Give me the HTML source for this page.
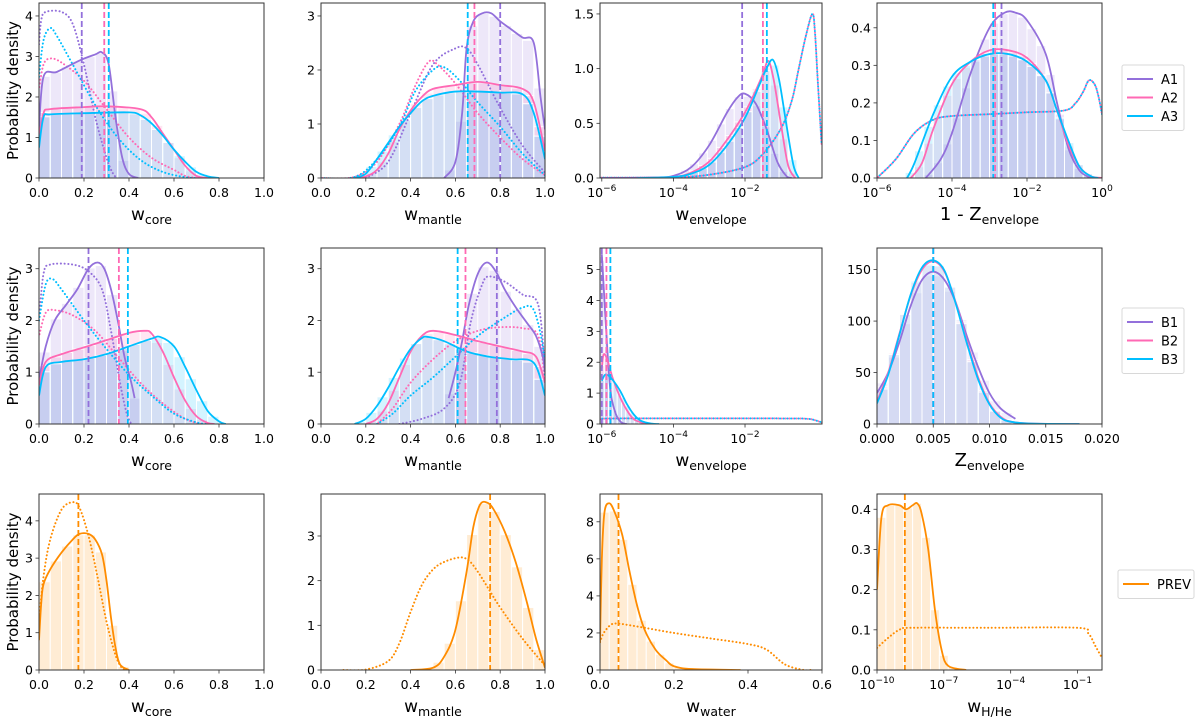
<!DOCTYPE html>
<html><head><meta charset="utf-8">
<style>
html,body{margin:0;padding:0;background:#fff;}
svg text{font-family:"DejaVu Sans","Liberation Sans",sans-serif;fill:#000;}
</style></head>
<body>
<svg id="fig" width="1200" height="717" viewBox="0 0 1200 717" xmlns="http://www.w3.org/2000/svg"></svg>
<script>
// ---------- data (x, density) ----------
// Row 1 (A models)
const p11_A1 = [[0,1.2],[0.02,2.5],[0.08,2.62],[0.18,2.9],[0.25,3.05],[0.28,3.1],[0.31,2.8],[0.34,1.5],[0.37,0.5],[0.40,0.1],[0.44,0]];
const p11_A2 = [[0,1.0],[0.02,1.6],[0.05,1.7],[0.2,1.75],[0.3,1.77],[0.45,1.7],[0.5,1.5],[0.55,1.1],[0.6,0.7],[0.65,0.3],[0.7,0.05],[0.75,0]];
const p11_A3 = [[0,0.75],[0.02,1.5],[0.05,1.57],[0.2,1.6],[0.4,1.62],[0.45,1.55],[0.5,1.35],[0.55,1.05],[0.6,0.7],[0.65,0.4],[0.7,0.15],[0.75,0.04],[0.8,0]];
const p11_A1d = [[0,3.3],[0.01,3.9],[0.03,4.1],[0.1,4.1],[0.15,3.8],[0.2,2.8],[0.25,1.5],[0.3,0.5],[0.33,0.1],[0.35,0]];
const p11_A2d = [[0,2.2],[0.02,2.8],[0.05,2.95],[0.1,2.85],[0.2,2.4],[0.3,1.7],[0.4,1.0],[0.5,0.5],[0.6,0.2],[0.65,0.05],[0.7,0]];
const p11_A3d = [[0,2.5],[0.02,3.4],[0.05,3.7],[0.08,3.5],[0.15,2.8],[0.25,1.8],[0.35,1.0],[0.45,0.45],[0.55,0.15],[0.65,0.02],[0.7,0]];
const p11_med = [0.19,0.29,0.31];

const p12_A1 = [[0.55,0],[0.6,0.3],[0.63,1.2],[0.65,2.4],[0.68,2.9],[0.72,3.05],[0.76,3.05],[0.8,2.9],[0.85,2.75],[0.9,2.6],[0.95,2.5],[0.98,1.5],[1.0,0.9]];
const p12_A2 = [[0.15,0],[0.2,0.03],[0.25,0.15],[0.3,0.45],[0.35,0.9],[0.4,1.25],[0.45,1.5],[0.5,1.65],[0.6,1.72],[0.7,1.78],[0.8,1.72],[0.9,1.65],[0.95,1.4],[1.0,0.5]];
const p12_A3 = [[0.15,0],[0.2,0.08],[0.25,0.35],[0.3,0.65],[0.35,0.95],[0.4,1.2],[0.45,1.42],[0.5,1.52],[0.6,1.6],[0.7,1.6],[0.8,1.58],[0.9,1.55],[0.95,1.2],[1.0,0.35]];
const p12_A1d = [[0.2,0],[0.3,0.3],[0.4,1.2],[0.5,2.1],[0.6,2.4],[0.65,2.4],[0.7,2.1],[0.8,1.3],[0.9,0.6],[1.0,0.1]];
const p12_A2d = [[0,0],[0.15,0.02],[0.25,0.3],[0.35,1.0],[0.42,1.7],[0.48,2.15],[0.52,2.1],[0.6,1.75],[0.7,1.2],[0.8,0.75],[0.9,0.35],[1.0,0.05]];
const p12_A3d = [[0,0],[0.15,0.02],[0.25,0.35],[0.35,0.95],[0.42,1.6],[0.5,2.0],[0.55,2.05],[0.62,1.8],[0.7,1.4],[0.8,0.95],[0.9,0.45],[1.0,0.05]];
const p12_med = [0.80,0.685,0.655];

const p13_A1 = [[-6,0],[-4.5,0.005],[-4,0.02],[-3.5,0.1],[-3,0.3],[-2.5,0.6],[-2.2,0.74],[-2.0,0.77],[-1.7,0.68],[-1.4,0.45],[-1.1,0.15],[-0.85,0.02],[-0.7,0]];
const p13_A2 = [[-5,0],[-4,0.01],[-3.5,0.05],[-3,0.15],[-2.5,0.35],[-2,0.6],[-1.7,0.8],[-1.5,0.95],[-1.35,1.07],[-1.2,0.9],[-1,0.5],[-0.8,0.12],[-0.6,0]];
const p13_A3 = [[-5,0],[-4,0.01],[-3.5,0.04],[-3,0.12],[-2.5,0.3],[-2,0.55],[-1.6,0.85],[-1.4,1.0],[-1.22,1.08],[-1.05,0.9],[-0.85,0.5],[-0.65,0.12],[-0.5,0]];
const p13_Ad = [[-6.05,0.003],[-4,0.006],[-3,0.03],[-2,0.1],[-1.5,0.22],[-1,0.45],[-0.7,0.7],[-0.5,1.0],[-0.3,1.3],[-0.12,1.5],[-0.05,1.35],[0.03,0.9],[0.14,0.3]];
const p13_med = [-2.08,-1.5,-1.39];

const p14_A1 = [[-4.7,0],[-4.3,0.05],[-4,0.12],[-3.5,0.28],[-3,0.4],[-2.6,0.44],[-2.3,0.44],[-2,0.42],[-1.5,0.33],[-1.2,0.2],[-0.9,0.08],[-0.6,0.02],[-0.3,0]];
const p14_A2 = [[-5.1,0],[-4.8,0.04],[-4.5,0.13],[-4,0.25],[-3.5,0.31],[-3,0.34],[-2.5,0.34],[-2,0.32],[-1.5,0.26],[-1.2,0.18],[-0.9,0.09],[-0.6,0.03],[-0.3,0.005],[0,0]];
const p14_A3 = [[-5.2,0],[-5,0.04],[-4.5,0.17],[-4,0.27],[-3.5,0.31],[-3,0.33],[-2.5,0.33],[-2,0.31],[-1.5,0.26],[-1.2,0.18],[-0.9,0.1],[-0.6,0.03],[-0.3,0.005],[-0.1,0]];
const p14_Ad = [[-6,0],[-5.5,0.05],[-5,0.12],[-4.5,0.155],[-4,0.165],[-3,0.17],[-2,0.175],[-1,0.18],[-0.7,0.2],[-0.5,0.23],[-0.35,0.26],[-0.2,0.25],[-0.1,0.22],[0,0.17]];
const p14_med = [-2.68,-2.85,-2.9];

// Row 2 (B models)
const p21_B1 = [[0,0.85],[0.03,1.5],[0.07,2.0],[0.12,2.3],[0.17,2.6],[0.22,3.0],[0.26,3.12],[0.29,3.0],[0.32,2.6],[0.35,2.0],[0.38,1.3],[0.41,0.8],[0.425,0.5]];
const p21_B2 = [[0,0.75],[0.03,1.2],[0.1,1.35],[0.2,1.48],[0.3,1.62],[0.4,1.76],[0.47,1.8],[0.5,1.75],[0.55,1.4],[0.6,0.9],[0.65,0.45],[0.7,0.15],[0.75,0.02],[0.78,0]];
const p21_B3 = [[0,0.55],[0.03,1.1],[0.1,1.2],[0.2,1.25],[0.3,1.35],[0.4,1.5],[0.5,1.65],[0.54,1.68],[0.6,1.5],[0.65,1.1],[0.7,0.65],[0.75,0.25],[0.8,0.05],[0.83,0]];
const p21_B1d = [[0,2.0],[0.02,2.9],[0.05,3.08],[0.15,3.08],[0.22,2.95],[0.28,2.6],[0.32,1.8],[0.36,0.8],[0.39,0.2],[0.41,0]];
const p21_B2d = [[0,1.7],[0.03,2.15],[0.07,2.2],[0.15,2.1],[0.25,1.8],[0.35,1.3],[0.45,0.8],[0.55,0.4],[0.65,0.1],[0.72,0]];
const p21_B3d = [[0,2.0],[0.03,2.7],[0.06,2.8],[0.1,2.6],[0.2,2.0],[0.3,1.45],[0.4,0.95],[0.5,0.55],[0.6,0.2],[0.7,0.03],[0.75,0]];
const p21_med = [0.22,0.355,0.395];

const p22_B1 = [[0.57,0.5],[0.6,1.0],[0.63,1.6],[0.66,2.3],[0.7,2.9],[0.74,3.12],[0.78,2.95],[0.82,2.6],[0.87,2.25],[0.92,1.95],[0.96,1.7],[0.99,1.3],[1.0,1.0]];
const p22_B2 = [[0.2,0],[0.25,0.1],[0.3,0.4],[0.35,0.9],[0.4,1.4],[0.45,1.7],[0.5,1.8],[0.6,1.72],[0.7,1.6],[0.8,1.5],[0.9,1.4],[0.96,1.3],[1.0,0.8]];
const p22_B3 = [[0.15,0],[0.2,0.1],[0.25,0.35],[0.3,0.7],[0.35,1.1],[0.4,1.45],[0.45,1.66],[0.48,1.68],[0.55,1.6],[0.65,1.4],[0.75,1.3],[0.85,1.25],[0.95,1.18],[1.0,0.55]];
const p22_B1d = [[0.35,0],[0.45,0.1],[0.55,0.3],[0.62,0.8],[0.67,2.0],[0.72,2.7],[0.75,2.85],[0.82,2.75],[0.9,2.5],[0.97,2.3],[1.0,1.0]];
const p22_B2d = [[0.25,0],[0.32,0.3],[0.4,0.8],[0.5,1.25],[0.6,1.6],[0.7,1.8],[0.8,1.87],[0.9,1.85],[0.97,1.7],[1.0,0.8]];
const p22_B3d = [[0.25,0],[0.32,0.2],[0.4,0.55],[0.5,0.9],[0.6,1.3],[0.7,1.7],[0.8,2.0],[0.9,2.25],[0.95,2.2],[0.99,1.5],[1.0,0.8]];
const p22_med = [0.785,0.645,0.61];

const p23_B1 = [[-6.0,5.5],[-5.95,4.5],[-5.85,2.5],[-5.75,1.0],[-5.6,0.3],[-5.45,0.05],[-5.3,0]];
const p23_B2 = [[-6.0,1.8],[-5.95,2.25],[-5.85,2.1],[-5.7,1.5],[-5.5,0.9],[-5.3,0.45],[-5.1,0.15],[-4.8,0.02],[-4.6,0]];
const p23_B3 = [[-6.0,1.4],[-5.9,1.6],[-5.75,1.5],[-5.5,1.1],[-5.3,0.65],[-5.1,0.3],[-4.9,0.1],[-4.6,0.01],[-4.4,0]];
const p23_Bd = [[-6.0,0.15],[-5.5,0.18],[-1,0.18],[-0.3,0.17],[-0.1,0.14],[0.15,0.05]];
const p23_med = [-6.0,-5.87,-5.76];

const p24_B1 = [[0,30],[0.001,50],[0.002,80],[0.003,115],[0.004,140],[0.005,148],[0.006,140],[0.007,118],[0.008,85],[0.009,55],[0.010,30],[0.011,15],[0.0123,5]];
const p24_B2 = [[0,22],[0.001,50],[0.002,88],[0.003,125],[0.004,150],[0.005,158],[0.006,148],[0.007,118],[0.008,80],[0.009,45],[0.010,20],[0.011,7],[0.012,2],[0.014,0.3],[0.018,0]];
const p24_B3 = [[0,20],[0.001,48],[0.002,87],[0.003,126],[0.004,152],[0.005,159],[0.006,149],[0.007,117],[0.008,78],[0.009,43],[0.010,19],[0.011,6],[0.012,2],[0.014,0.3],[0.018,0]];
const p24_med = [0.005,0.005,0.005];

// Row 3 (PREV)
const p31_P = [[0,0.8],[0.01,1.8],[0.02,2.3],[0.05,2.7],[0.1,3.15],[0.15,3.5],[0.18,3.65],[0.22,3.65],[0.25,3.5],[0.28,3.1],[0.3,2.4],[0.32,1.4],[0.34,0.6],[0.36,0.15],[0.4,0]];
const p31_Pd = [[0,1.3],[0.02,2.5],[0.05,3.5],[0.1,4.3],[0.15,4.5],[0.18,4.35],[0.22,3.6],[0.26,2.5],[0.3,1.3],[0.34,0.4],[0.37,0.05],[0.4,0]];
const p31_med = [0.175];
const p32_P = [[0.4,0],[0.5,0.05],[0.55,0.3],[0.6,0.9],[0.65,2.2],[0.68,3.2],[0.71,3.7],[0.74,3.75],[0.77,3.6],[0.82,3.1],[0.87,2.4],[0.92,1.5],[0.96,0.7],[1.0,0.05]];
const p32_Pd = [[0.1,0],[0.2,0.01],[0.3,0.2],[0.35,0.6],[0.4,1.3],[0.45,1.9],[0.5,2.25],[0.55,2.42],[0.62,2.52],[0.66,2.45],[0.7,2.2],[0.75,1.8],[0.8,1.4],[0.9,0.7],[1.0,0.1]];
const p32_med = [0.755];
const p33_P = [[0,1.5],[0.005,6],[0.012,8.5],[0.025,9.0],[0.04,8.5],[0.06,7.3],[0.08,5.3],[0.1,3.5],[0.12,2.2],[0.15,1.1],[0.18,0.5],[0.2,0.2],[0.25,0.05],[0.38,0]];
const p33_Pd = [[0,1.5],[0.01,2.0],[0.03,2.45],[0.05,2.5],[0.1,2.35],[0.2,2.0],[0.3,1.7],[0.4,1.4],[0.45,1.1],[0.5,0.3],[0.55,0],[0.57,0]];
const p33_med = [0.05];
const p34_P = [[-10,0.2],[-9.8,0.38],[-9.5,0.41],[-9,0.41],[-8.7,0.4],[-8.4,0.41],[-8.2,0.415],[-8,0.39],[-7.7,0.3],[-7.4,0.15],[-7.1,0.05],[-6.8,0.01],[-6,0]];
const p34_Pd = [[-10,0.055],[-9.5,0.08],[-9,0.1],[-8.5,0.105],[-5,0.105],[-1,0.105],[-0.5,0.09],[-0.2,0.06],[0.1,0.03]];
const p34_med = [-8.75];

// tick labels
const linTicks01 = [0,0.2,0.4,0.6,0.8,1.0];
const linTickLabels01 = ["0.0","0.2","0.4","0.6","0.8","1.0"];
const logTicksEnv = [-6,-4,-2];
const logTicksZ = [-6,-4,-2,0];
const zTicks = [0,0.005,0.01,0.015,0.02];
const zTickLabels = ["0.000","0.005","0.010","0.015","0.020"];
const waterTicks = [0,0.2,0.4,0.6];
const waterTickLabels = ["0.0","0.2","0.4","0.6"];
const hheTicks = [-10,-7,-4,-1];

// ---------- rendering ----------
const NS = "http://www.w3.org/2000/svg";
const svg = document.getElementById('fig');
const C1 = "#9370DB", C2 = "#FF69B4", C3 = "#00BFFF", CO = "#FF8C00";
const cols = [[39,264],[321,545],[600,822],[877,1102]];
const rows = [[3,178],[248,424],[494,670]];

function mk(tag, attrs, parent){
  const e = document.createElementNS(NS, tag);
  for (const k in attrs) e.setAttribute(k, attrs[k]);
  (parent||svg).appendChild(e);
  return e;
}
function interp(curve, x){
  if (x < curve[0][0] || x > curve[curve.length-1][0]) return 0;
  for (let i=1;i<curve.length;i++){
    if (x <= curve[i][0]){
      const a=curve[i-1], b=curve[i];
      const t=(x-a[0])/(b[0]-a[0]||1);
      return a[1]+t*(b[1]-a[1]);
    }
  }
  return 0;
}
function smoothPath(pts){
  let d = "M"+pts[0][0].toFixed(2)+","+pts[0][1].toFixed(2);
  for (let i=0;i<pts.length-1;i++){
    const p0=pts[Math.max(0,i-1)], p1=pts[i], p2=pts[i+1], p3=pts[Math.min(pts.length-1,i+2)];
    const c1x=p1[0]+(p2[0]-p0[0])/6, c1y=p1[1]+(p2[1]-p0[1])/6;
    const c2x=p2[0]-(p3[0]-p1[0])/6, c2y=p2[1]-(p3[1]-p1[1])/6;
    d += " C"+c1x.toFixed(2)+","+c1y.toFixed(2)+" "+c2x.toFixed(2)+","+c2y.toFixed(2)+" "+p2[0].toFixed(2)+","+p2[1].toFixed(2);
  }
  return d;
}

function panel(cfg){
  const [x0,x1]=cols[cfg.col], [y0,y1]=rows[cfg.row];
  const g = mk('g',{});
  
  
  const X = v => x0 + (v-cfg.xd[0])/(cfg.xd[1]-cfg.xd[0])*(x1-x0);
  const Y = v => y1 - v/cfg.ymax*(y1-y0);
  const clipId = 'clip'+cfg.row+cfg.col;
  const cp = mk('clipPath',{id:clipId},g);
  mk('rect',{x:x0,y:y0,width:x1-x0,height:y1-y0},cp);
  const inner = mk('g',{'clip-path':'url(#'+clipId+')'},g);
  const hg = mk('g',{},inner);
  
  
  cfg.series.forEach(s=>{
    for (let b=cfg.xd[0]; b<cfg.xd[1]-1e-9; b+=cfg.bin){
      const h = interp(s.solid, b+cfg.bin/2);
      if (h<=0.0001) continue;
      const r = mk('rect',{x:X(b),y:Y(h),width:X(b+cfg.bin)-X(b),height:Y(0)-Y(h),fill:s.color,'fill-opacity':cfg.hop||0.17,stroke:'#fff','stroke-width':1},hg);
      
      
    }
  });
  cfg.series.forEach((s,i)=>{
    if (!s.dotted) return;
    const p = mk('path',{d:smoothPath(s.dotted.map(q=>[X(q[0]),Y(q[1])])),fill:'none',stroke:s.color,'stroke-width':2,'stroke-dasharray':'0.1,3.6','stroke-dashoffset':(i%2)*1.85,'stroke-linecap':'round'},inner);
    
    
  });
  cfg.series.forEach(s=>{
    const p = mk('path',{d:smoothPath(s.solid.map(q=>[X(q[0]),Y(q[1])])),fill:'none',stroke:s.color,'stroke-width':1.8},inner);
    
    
  });
  cfg.series.forEach((s,i)=>{
    const m = cfg.med[i];
    const l = mk('line',{x1:X(m),x2:X(m),y1:y0,y2:y1,stroke:s.color,'stroke-width':1.8,'stroke-dasharray':'6,3'},inner);
    
    
  });
  const fr = mk('rect',{x:x0,y:y0,width:x1-x0,height:y1-y0,fill:'none',stroke:'#333','stroke-width':1},g);
  
  
  cfg.xt.forEach((t,i)=>{
    const x = X(t);
    mk('line',{x1:x,x2:x,y1:y1,y2:y1+3.5,stroke:'#333','stroke-width':0.8},g);
    const tx = mk('text',{x:x,y:y1+19,'text-anchor':'middle','font-size':12.5},g);
    
    
    if (cfg.log){
      tx.textContent = "10";
      const sp = mk('tspan',{dy:-6,'font-size':9},tx);
      sp.textContent = (t<0?"\u2212":"")+Math.abs(t);
    } else tx.textContent = cfg.xtl[i];
  });
  cfg.yt.forEach((t,i)=>{
    const y = Y(t);
    mk('line',{x1:x0-3.5,x2:x0,y1:y,y2:y,stroke:'#333','stroke-width':0.8},g);
    const tx = mk('text',{x:x0-6,y:y+4.5,'text-anchor':'end','font-size':12.5},g);
    
    
    tx.textContent = cfg.ytl[i];
  });
  const xl = mk('text',{x:(x0+x1)/2,y:y1+42,'text-anchor':'middle','font-size':cfg.labSize||17},g);
  
  
  xl.textContent = cfg.xlab;
  const sub = mk('tspan',{dy:4,'font-size':12.5},xl);
  sub.textContent = cfg.xsub;
  if (cfg.col===0){
    const yl = mk('text',{x:0,y:0,transform:'translate(18,'+((y0+y1)/2)+') rotate(-90)','text-anchor':'middle','font-size':15},g);
    
    
    yl.textContent = "Probability density";
  }
}
const range = (a,b,s)=>{const r=[];for(let v=a;v<=b+1e-9;v+=s)r.push(+v.toFixed(6));return r;};
const lab = (arr,d)=>arr.map(v=>v.toFixed(d));

panel({name:'panel-a-wcore',row:0,col:0,xd:[0,1],ymax:4.32,bin:0.05,xt:linTicks01,xtl:linTickLabels01,yt:range(0,4,1),ytl:lab(range(0,4,1),0),xlab:'w',xsub:'core',med:p11_med,
 series:[{label:'A1',color:C1,solid:p11_A1,dotted:p11_A1d},{label:'A2',color:C2,solid:p11_A2,dotted:p11_A2d},{label:'A3',color:C3,solid:p11_A3,dotted:p11_A3d}]});
panel({name:'panel-a-wmantle',row:0,col:1,xd:[0,1],ymax:3.24,bin:0.05,xt:linTicks01,xtl:linTickLabels01,yt:range(0,3,1),ytl:lab(range(0,3,1),0),xlab:'w',xsub:'mantle',med:p12_med,
 series:[{label:'A1',color:C1,solid:p12_A1,dotted:p12_A1d},{label:'A2',color:C2,solid:p12_A2,dotted:p12_A2d},{label:'A3',color:C3,solid:p12_A3,dotted:p12_A3d}]});
panel({name:'panel-a-wenvelope',row:0,col:2,xd:[-6.05,0.15],ymax:1.6,bin:0.25,log:true,xt:logTicksEnv,yt:[0,0.5,1,1.5],ytl:["0.0","0.5","1.0","1.5"],xlab:'w',xsub:'envelope',med:p13_med,
 series:[{label:'A1',color:C1,solid:p13_A1},{label:'A2',color:C2,solid:p13_A2,dotted:p13_Ad},{label:'A3',color:C3,solid:p13_A3,dotted:p13_Ad}]});
panel({name:'panel-a-1-zenvelope',row:0,col:3,xd:[-6,0],ymax:0.466,bin:0.25,log:true,xt:logTicksZ,yt:[0,0.1,0.2,0.3,0.4],ytl:["0.0","0.1","0.2","0.3","0.4"],xlab:'1 - Z',xsub:'envelope',labSize:18,med:p14_med,
 series:[{label:'A1',color:C1,solid:p14_A1},{label:'A2',color:C2,solid:p14_A2,dotted:p14_Ad},{label:'A3',color:C3,solid:p14_A3,dotted:p14_Ad}]});
panel({name:'panel-b-wcore',row:1,col:0,xd:[0,1],ymax:3.4,bin:0.05,xt:linTicks01,xtl:linTickLabels01,yt:range(0,3,1),ytl:lab(range(0,3,1),0),xlab:'w',xsub:'core',med:p21_med,
 series:[{label:'B1',color:C1,solid:p21_B1,dotted:p21_B1d},{label:'B2',color:C2,solid:p21_B2,dotted:p21_B2d},{label:'B3',color:C3,solid:p21_B3,dotted:p21_B3d}]});
panel({name:'panel-b-wmantle',row:1,col:1,xd:[0,1],ymax:3.4,bin:0.05,xt:linTicks01,xtl:linTickLabels01,yt:range(0,3,1),ytl:lab(range(0,3,1),0),xlab:'w',xsub:'mantle',med:p22_med,
 series:[{label:'B1',color:C1,solid:p22_B1,dotted:p22_B1d},{label:'B2',color:C2,solid:p22_B2,dotted:p22_B2d},{label:'B3',color:C3,solid:p22_B3,dotted:p22_B3d}]});
panel({name:'panel-b-wenvelope',row:1,col:2,xd:[-6.05,0.15],ymax:5.7,bin:0.12,log:true,xt:logTicksEnv,yt:range(0,5,1),ytl:lab(range(0,5,1),0),xlab:'w',xsub:'envelope',med:p23_med,
 series:[{label:'B1',color:C1,solid:p23_B1},{label:'B2',color:C2,solid:p23_B2,dotted:p23_Bd},{label:'B3',color:C3,solid:p23_B3,dotted:p23_Bd}]});
panel({name:'panel-b-zenvelope',row:1,col:3,xd:[0,0.02],ymax:171,bin:0.001,xt:zTicks,xtl:zTickLabels,yt:[0,50,100,150],ytl:["0","50","100","150"],xlab:'Z',xsub:'envelope',labSize:18,med:p24_med,hop:0.12,
 series:[{label:'B1',color:C1,solid:p24_B1},{label:'B2',color:C2,solid:p24_B2},{label:'B3',color:C3,solid:p24_B3}]});
panel({name:'panel-prev-wcore',row:2,col:0,xd:[0,1],ymax:4.72,bin:0.05,xt:linTicks01,xtl:linTickLabels01,yt:range(0,4,1),ytl:lab(range(0,4,1),0),xlab:'w',xsub:'core',med:p31_med,
 series:[{label:'PREV',color:CO,solid:p31_P,dotted:p31_Pd}]});
panel({name:'panel-prev-wmantle',row:2,col:1,xd:[0,1],ymax:3.94,bin:0.05,xt:linTicks01,xtl:linTickLabels01,yt:range(0,3,1),ytl:lab(range(0,3,1),0),xlab:'w',xsub:'mantle',med:p32_med,
 series:[{label:'PREV',color:CO,solid:p32_P,dotted:p32_Pd}]});
panel({name:'panel-prev-wwater',row:2,col:2,xd:[0,0.6],ymax:9.5,bin:0.025,xt:waterTicks,xtl:waterTickLabels,yt:[0,2,4,6,8],ytl:["0","2","4","6","8"],xlab:'w',xsub:'water',med:p33_med,
 series:[{label:'PREV',color:CO,solid:p33_P,dotted:p33_Pd}]});
panel({name:'panel-prev-whhe',row:2,col:3,xd:[-10,0.1],ymax:0.438,bin:0.4,log:true,xt:hheTicks,yt:[0,0.1,0.2,0.3,0.4],ytl:["0.0","0.1","0.2","0.3","0.4"],xlab:'w',xsub:'H/He',med:p34_med,
 series:[{label:'PREV',color:CO,solid:p34_P,dotted:p34_Pd}]});

function legend(name, y0, x0, w, entries){
  const h = 10 + entries.length*18.5;
  const g = mk('g',{});
  
  
  mk('rect',{x:x0,y:y0,width:w,height:h,rx:2,fill:'#fff',stroke:'#d8d8d8','stroke-width':1},g);
  entries.forEach((e,i)=>{
    const y = y0+14+i*18.5;
    mk('line',{x1:x0+5,x2:x0+31,y1:y,y2:y,stroke:e[1],'stroke-width':2},g);
    const t = mk('text',{x:x0+39,y:y+5,'font-size':13},g);
    
    
    t.textContent = e[0];
  });
}
legend('legend-a', 65, 1122, 62, [['A1',C1],['A2',C2],['A3',C3]]);
legend('legend-b', 308, 1122, 62, [['B1',C1],['B2',C2],['B3',C3]]);
legend('legend-prev', 570, 1118, 76, [['PREV',CO]]);
</script>
</body></html>
